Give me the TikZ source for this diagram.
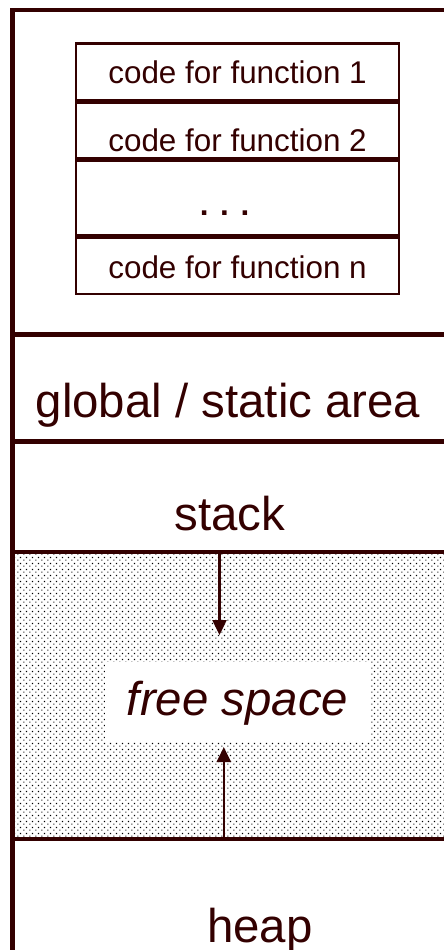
\documentclass[tikz,border=0pt]{standalone}
\usepackage{fontspec}
\setmainfont{Liberation Sans}
\usetikzlibrary{arrows.meta, patterns, positioning}
\definecolor{mem}{RGB}{51,0,0}
\pgfdeclarepatternformonly{memdots}{\pgfqpoint{-0.5pt}{-0.5pt}}{\pgfqpoint{2.5pt}{2.5pt}}{\pgfqpoint{3pt}{3pt}}{
  \pgfpathrectangle{\pgfqpoint{-0.35pt}{-0.35pt}}{\pgfqpoint{0.7pt}{0.7pt}}
  \pgfpathrectangle{\pgfqpoint{1.15pt}{1.15pt}}{\pgfqpoint{0.7pt}{0.7pt}}
  \pgfusepath{fill}}

\begin{document}
\begin{tikzpicture}[
  x=0.5pt, y=-0.5pt,
  node distance=0pt,
  big/.style={font=\fontsize{23.7}{28}\selectfont, text=mem},
  small/.style={font=\fontsize{15.7}{19}\selectfont, text=mem},
  frame/.style={draw=mem, line width=2.4pt},
  fnrow/.style={small, draw=mem, line width=1.2pt, inner sep=0pt,
                minimum width=161.35pt, align=center},
  arr/.style={-{Triangle[width=7pt, length=7.5pt]}, draw=mem, line width=1.2pt},
]
\useasboundingbox (0,0) rectangle (444,950);
% free space between stack and heap
\fill[pattern=memdots, pattern color=black] (12.5,552) rectangle (444,839);
\node (free) [big, fill=white, inner sep=0pt, text height=26.5pt, text depth=13.5pt,
  minimum width=132.5pt, anchor=base] at (237.5,715) {\itshape free space};
% growth arrows
\coordinate (stackbase) at (219.5,552);
\coordinate (stacktip)  at (219.5,635);
\coordinate (heapbase)  at (223.8,839);
\coordinate (heaptip)   at (223.8,747);
\draw [arr] (stackbase) -- (stacktip);
\draw [arr] (heapbase) -- (heaptip);
% memory frame
\draw [frame] (12.5,950) -- (12.5,10) -- (444,10);
\foreach \y in {334.5,441.5,552,839}
  \draw [frame] (12.5,\y) -- (444,\y);
% code area
\node (fn1) [fnrow, text height=19.85pt, text depth=8.5pt, anchor=north west]
  at (75,42.3) {code for function 1};
\node (fn2) [fnrow, text height=24.5pt, text depth=3.5pt, below=of fn1]
  {code for function 2};
\node (fndots) [fnrow, text height=27pt, text depth=10pt, below=of fn2]
  {\textbf{. . .}\hspace*{13pt}};
\node (fnn) [fnrow, text height=20.5pt, text depth=7.85pt, below=of fndots]
  {code for function n};
% region labels
\node (glob)  [big, anchor=base] at (228,417.5) {global / static area};
\node (stack) [big, anchor=base] at (230,530) {stack};
\node (heap)  [big, anchor=base] at (260,942) {heap};
\end{tikzpicture}
\end{document}
